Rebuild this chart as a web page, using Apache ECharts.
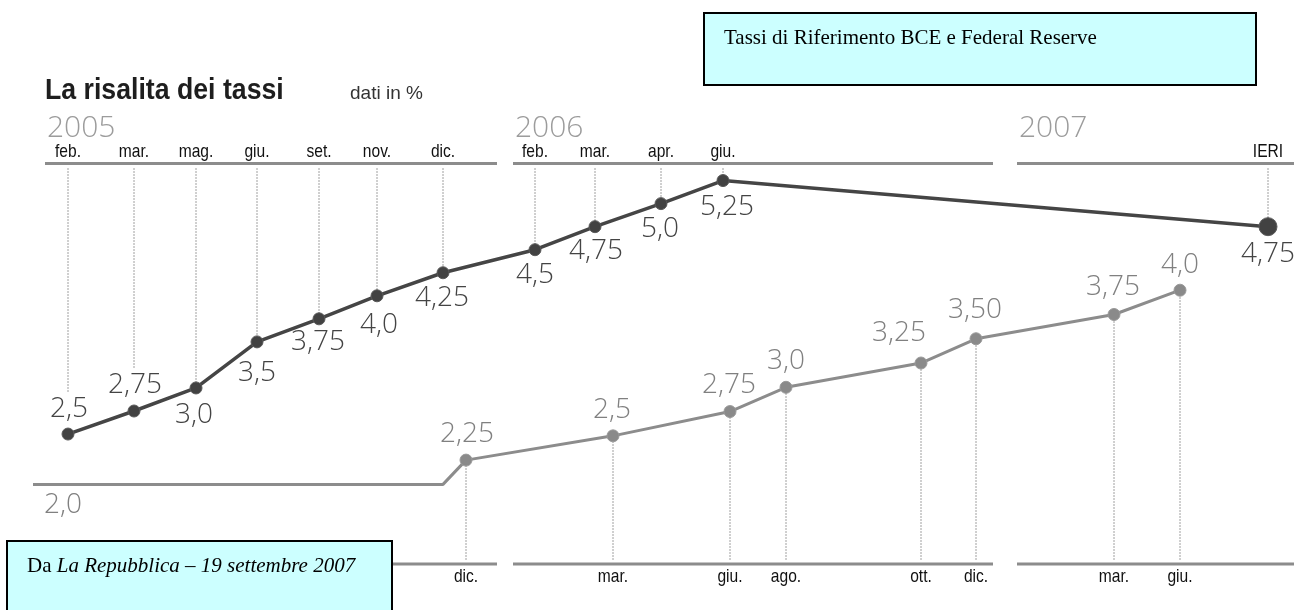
<!DOCTYPE html>
<html>
<head>
<meta charset="utf-8">
<script src="https://cdn.jsdelivr.net/npm/echarts@6/dist/echarts.min.js"></script>
<style>
  html, body { margin: 0; padding: 0; background: #ffffff; }
  #chart { width: 1298px; height: 610px; }
</style>
</head>
<body>
<div id="chart"></div>
<script>
// ---- data ----
// Federal Reserve (top line): position along the hand-laid timeline, rate in %
const fedPos    = [68, 134, 196, 257, 319, 377, 443, 535, 595, 661, 723, 1268];
const fedVal    = [2.5, 2.75, 3.0, 3.5, 3.75, 4.0, 4.25, 4.5, 4.75, 5.0, 5.25, 4.75];
const fedMonths = ['feb.', 'mar.', 'mag.', 'giu.', 'set.', 'nov.', 'dic.', 'feb.', 'mar.', 'apr.', 'giu.', 'IERI'];
const fedText   = ['2,5', '2,75', '3,0', '3,5', '3,75', '4,0', '4,25', '4,5', '4,75', '5,0', '5,25', '4,75'];

// BCE (bottom line)
const bcePos    = [33, 443, 466, 613, 730, 786, 921, 976, 1114, 1180];
const bceVal    = [2.0, 2.0, 2.25, 2.5, 2.75, 3.0, 3.25, 3.5, 3.75, 4.0];
const bceMonths = ['', '', 'dic.', 'mar.', 'giu.', 'ago.', 'ott.', 'dic.', 'mar.', 'giu.'];
const bceText   = ['2,0', '', '2,25', '2,5', '2,75', '3,0', '3,25', '3,50', '3,75', '4,0'];

// year rulers
const years     = ['2005', '2006', '2007'];
const yearSpans = [[45, 497], [513, 993], [1017, 1294]];

// ---- layout (label offsets from their points) ----
const fedLabelOffset = [[1,-25],[1,-26],[-2,27],[0,31],[-1,23],[2,29],[-1,25],[0,25],[1,24],[-1,25],[4,26],[0,27]];
const bceLabelOffset = [[30,21],[0,0],[1,-26],[-1,-26],[-1,-27],[0,-26],[-22,-30],[-1,-29],[-1,-27],[0,-25]];

const numFont = "'Open Sans', 'Liberation Sans', Arial, sans-serif";
const sansFont = "'Liberation Sans', Arial, sans-serif";
const serifFont = "'Liberation Serif', 'Times New Roman', serif";

const chart = echarts.init(document.getElementById('chart'), null, { renderer: 'canvas' });

const fedData = fedPos.map((x, i) => ({
  value: [x, fedVal[i]],
  symbolSize: i === fedPos.length - 1 ? 18 : 12,
  label: { offset: fedLabelOffset[i] }
}));

const bceHike = bceVal.map((v, i) => i > 0 && v !== bceVal[i - 1]);
const bceData = bcePos.map((x, i) => ({
  value: [x, bceVal[i]],
  symbolSize: bceHike[i] ? 12 : 0,
  label: { show: bceText[i] !== '', offset: bceLabelOffset[i] }
}));

function monthText(x, y, text) {
  return { type: 'text', x: x, y: y, scaleX: 0.82,
    style: { text: text, fontFamily: sansFont, fontSize: 19, fill: '#111111', align: 'center', verticalAlign: 'middle' } };
}

const option = {
  animation: false,
  backgroundColor: '#ffffff',
  title: [
    { text: 'dati in %', left: 350, top: 83, padding: 0,
      textStyle: { fontFamily: sansFont, fontSize: 19, fontWeight: 'normal', color: '#333', lineHeight: 22 } }
  ],
  grid: { left: 0, right: 0, top: 164, bottom: 46, containLabel: false },
  xAxis: [
    { type: 'value', position: 'top', min: 0, max: 1298,
      axisLine: { show: false }, axisTick: { show: false }, splitLine: { show: false }, axisLabel: { show: false } },
    { type: 'value', position: 'bottom', min: 0, max: 1298,
      axisLine: { show: false }, axisTick: { show: false }, splitLine: { show: false }, axisLabel: { show: false } }
  ],
  yAxis: [
    { type: 'value', min: 1.09, max: 5.43, show: false },
    { type: 'value', min: 1.18, max: 5.30, show: false }
  ],
  series: [
    { // year rulers, top and bottom, with year numbers
      type: 'custom', name: 'rulers', xAxisIndex: 0, yAxisIndex: 0, silent: true, z: 1,
      data: yearSpans.map((s, i) => [s[0], s[1], i]),
      encode: { x: [0, 1] },
      renderItem: (params, api) => {
        const x1 = api.coord([api.value(0), 3])[0];
        const x2 = api.coord([api.value(1), 3])[0];
        const cs = params.coordSys;
        const top = cs.y - 0.5, bot = cs.y + cs.height;
        const st = { stroke: '#8c8c8c', lineWidth: 3 };
        return { type: 'group', children: [
          { type: 'line', shape: { x1: x1, y1: top, x2: x2, y2: top }, style: st },
          { type: 'line', shape: { x1: x1, y1: bot, x2: x2, y2: bot }, style: st },
          { type: 'text', x: x1 + 2, y: top - 35,
            style: { text: years[params.dataIndex], fontFamily: numFont, fontWeight: 300, fontSize: 30, fill: '#9c9c9c',
              verticalAlign: 'middle', align: 'left' } }
        ]};
      }
    },
    { // Fed drop lines from the top ruler, with month names
      type: 'custom', name: 'fedDrops', xAxisIndex: 0, yAxisIndex: 0, silent: true, z: 2,
      data: fedPos.map((x, i) => [x, fedVal[i]]),
      encode: { x: 0, y: 1 },
      renderItem: (params, api) => {
        const p = api.coord([api.value(0), api.value(1)]);
        const off = fedLabelOffset[params.dataIndex];
        const top = params.coordSys.y;
        const end = off[1] < 0 ? p[1] + off[1] - 17 : p[1];
        return { type: 'group', children: [
          { type: 'line', shape: { x1: p[0], y1: top + 4, x2: p[0], y2: end },
            style: { stroke: '#a0a0a0', lineWidth: 1, lineDash: [2, 1] } },
          monthText(p[0], top - 12, fedMonths[params.dataIndex])
        ]};
      }
    },
    { // BCE drop lines from the bottom ruler, with month names
      type: 'custom', name: 'bceDrops', xAxisIndex: 1, yAxisIndex: 1, silent: true, z: 2,
      data: bcePos.map((x, i) => [x, bceVal[i], bceHike[i] ? 1 : 0]),
      encode: { x: 0, y: 1 },
      renderItem: (params, api) => {
        if (!api.value(2)) return null;
        const p = api.coord([api.value(0), api.value(1)]);
        const bot = params.coordSys.y + params.coordSys.height;
        return { type: 'group', children: [
          { type: 'line', shape: { x1: p[0], y1: bot - 4, x2: p[0], y2: p[1] },
            style: { stroke: '#a0a0a0', lineWidth: 1, lineDash: [2, 1] } },
          monthText(p[0], bot + 13, bceMonths[params.dataIndex])
        ]};
      }
    },
    { name: 'Federal Reserve', type: 'line', xAxisIndex: 0, yAxisIndex: 0, z: 5,
      data: fedData, symbol: 'circle',
      lineStyle: { color: '#454545', width: 3.5 },
      itemStyle: { color: '#424242', borderColor: '#5a5a5a', borderWidth: 1 },
      label: { show: true, position: 'inside', fontFamily: numFont, fontWeight: 300, fontSize: 28, color: '#444444',
        formatter: p => fedText[p.dataIndex] }
    },
    { name: 'BCE', type: 'line', xAxisIndex: 1, yAxisIndex: 1, z: 4,
      data: bceData, symbol: 'circle',
      lineStyle: { color: '#8c8c8c', width: 3 },
      itemStyle: { color: '#8a8a8a', borderColor: '#9a9a9a', borderWidth: 1 },
      label: { show: true, position: 'inside', fontFamily: numFont, fontWeight: 300, fontSize: 28, color: '#808080',
        formatter: p => bceText[p.dataIndex] }
    }
  ],
  graphic: [
    { type: 'text', z: 50, x: 45, y: 91, scaleX: 0.92,
      style: { text: 'La risalita dei tassi', fontFamily: sansFont, fontSize: 29, fontWeight: 'bold',
        fill: '#1e1e1e', verticalAlign: 'middle', align: 'left' } },
    { type: 'rect', z: 100, shape: { x: 704, y: 13, width: 552, height: 72 },
      style: { fill: '#ccffff', stroke: '#000000', lineWidth: 2 } },
    { type: 'text', z: 101, x: 724, y: 38,
      style: { text: 'Tassi di Riferimento BCE e Federal Reserve', fontFamily: serifFont,
        fontSize: 21, fill: '#000', verticalAlign: 'middle' } },
    { type: 'rect', z: 100, shape: { x: 7, y: 541, width: 385, height: 80 },
      style: { fill: '#ccffff', stroke: '#000000', lineWidth: 2 } },
    { type: 'text', z: 101, x: 27, y: 566,
      style: { text: '{n|Da }{i|La Repubblica – 19 settembre 2007}', verticalAlign: 'middle',
        rich: {
          n: { fontFamily: serifFont, fontSize: 21, fill: '#000' },
          i: { fontFamily: serifFont, fontSize: 21, fontStyle: 'italic', fill: '#000' }
        } } }
  ]
};

chart.setOption(option);
</script>
</body>
</html>
